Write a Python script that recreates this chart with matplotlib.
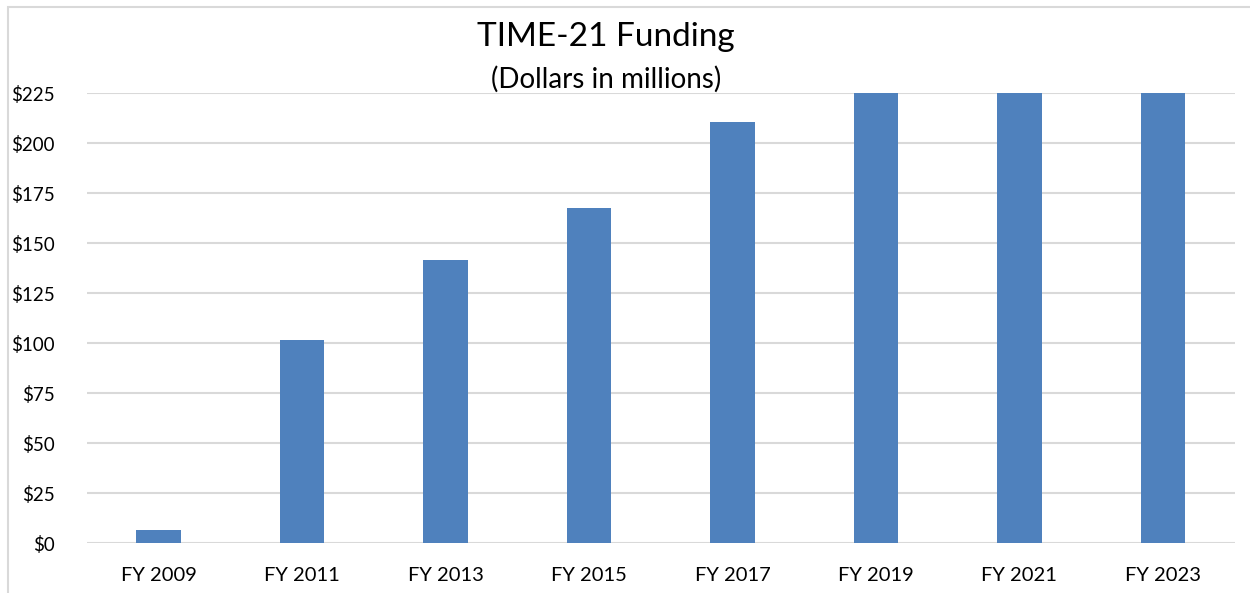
import matplotlib
matplotlib.use("Agg")
import matplotlib.pyplot as plt
from matplotlib.patches import Rectangle

# ── DATA ──────────────────────────────────────────────────────────────────────
years = ["FY 2009", "FY 2011", "FY 2013", "FY 2015",
         "FY 2017", "FY 2019", "FY 2021", "FY 2023"]
funding = [6.7, 101.5, 141.3, 167.7, 210.5, 225, 225, 225]
y_ticks = [0, 25, 50, 75, 100, 125, 150, 175, 200, 225]

plt.rcParams["font.family"] = ["Lato", "DejaVu Sans"]

fig = plt.figure(figsize=(12.5, 5.93), dpi=100)
ax = fig.add_axes([0.0696, 0.0843, 0.918, 0.7587])

x = range(len(years))
ax.bar(x, funding, width=0.31, color="#4f81bd", zorder=3)

ax.set_xlim(-0.5, len(years) - 0.5)
ax.set_ylim(0, 225)
ax.set_yticks(y_ticks)
ax.set_yticklabels(["${}".format(v) for v in y_ticks], fontsize=13.5)
ax.set_xticks(list(x))
ax.set_xticklabels(years, fontsize=14.5)
ax.tick_params(axis="both", length=0)
ax.tick_params(axis="y", pad=23)
ax.tick_params(axis="x", pad=17)
ax.grid(axis="y", color="#d9d9d9", linewidth=1.5, zorder=0)
for s in ax.spines.values():
    s.set_visible(False)

fig.text(0.485, 0.937, "TIME-21 Funding", ha="center", va="center", fontsize=24)
fig.text(0.485, 0.866, "(Dollars in millions)", ha="center", va="center", fontsize=20)

# light frame: only top and left edges fall inside the picture
fig.patches.append(Rectangle((0.006, -0.05), 1.05, 1.038, transform=fig.transFigure,
                             fill=False, edgecolor="#d9d9d9", linewidth=1.5))

fig.savefig("out.png", dpi=100)
